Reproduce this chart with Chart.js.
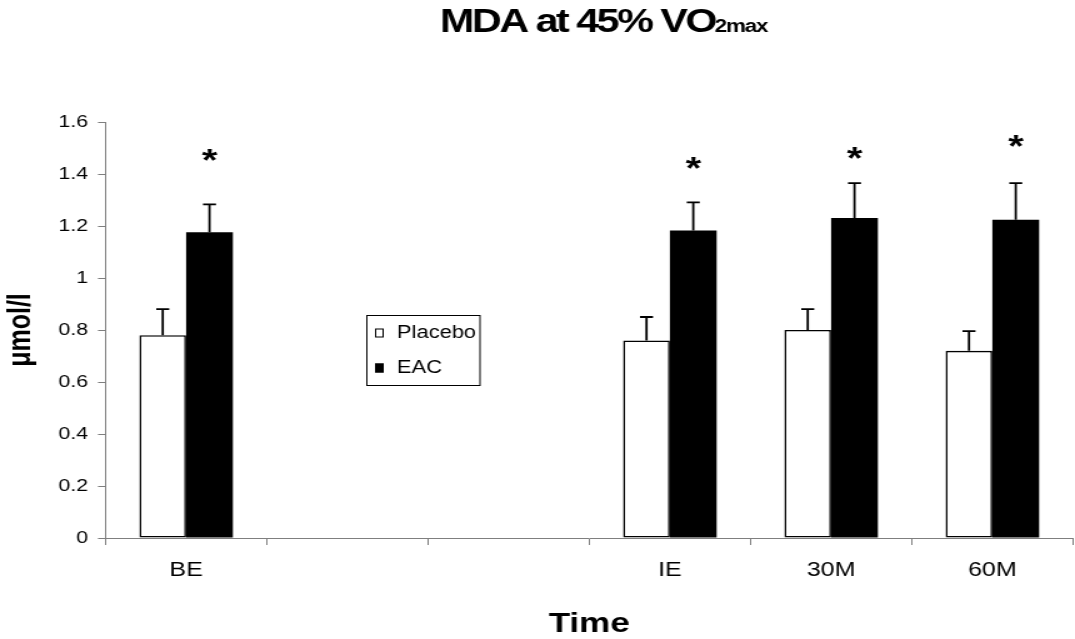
<!DOCTYPE html>
<html>
<head>
<meta charset="utf-8">
<title>MDA at 45% VO2max</title>
<script src="https://cdn.jsdelivr.net/npm/chart.js@4/dist/chart.umd.min.js"></script>
<style>
  html, body { margin: 0; padding: 0; background: #fff; overflow: hidden; }
  /* the chart is laid out narrow and widened, which gives the wide lettering */
  #wrap { width: 860px; height: 639px; transform: scaleX(1.25); transform-origin: 0 0; }
</style>
</head>
<body>
<div id="wrap"><canvas id="mdaChart" width="860" height="639"></canvas></div>
<script>
const timePoints = ['BE', '', '', 'IE', '30M', '60M'];
const placebo = [0.78, null, null, 0.76, 0.80, 0.72];
const placeboErr = [0.10, null, null, 0.09, 0.08, 0.076];
const eac = [1.176, null, null, 1.183, 1.231, 1.224];
const eacErr = [0.107, null, null, 0.108, 0.134, 0.141];
// height (in µmol/l) where each significance star sits
const starLevel = [1.473, null, null, 1.442, 1.482, 1.528];
const yTicks = [0, 0.2, 0.4, 0.6, 0.8, 1, 1.2, 1.4, 1.6];

const FONT = "'Liberation Sans', Arial, Helvetica, sans-serif";
const AXIS_GREY = '#7f7f7f';

const errorBars = {
    id: 'errorBars',
    afterDatasetsDraw(chart) {
        const ctx = chart.ctx;
        const y = chart.scales.y;
        const errs = [placeboErr, eacErr];
        ctx.save();
        ctx.strokeStyle = '#000';
        ctx.lineWidth = 1.8;
        chart.data.datasets.forEach((ds, d) => {
            const meta = chart.getDatasetMeta(d);
            ds.data.forEach((v, i) => {
                if (v == null) return;
                const x = meta.data[i].x;
                const y0 = y.getPixelForValue(v);
                const y1 = y.getPixelForValue(v + errs[d][i]);
                ctx.beginPath();
                ctx.moveTo(x, y0);
                ctx.lineTo(x, y1);
                ctx.moveTo(x - 5.2, y1);
                ctx.lineTo(x + 5.2, y1);
                ctx.stroke();
            });
        });
        ctx.restore();
    }
};

const stars = {
    id: 'stars',
    afterDatasetsDraw(chart) {
        const ctx = chart.ctx;
        const y = chart.scales.y;
        const meta = chart.getDatasetMeta(1);
        ctx.save();
        ctx.font = 'bold 32px ' + FONT;
        ctx.fillStyle = '#000';
        ctx.textAlign = 'center';
        const m = ctx.measureText('*');
        const shift = (m.actualBoundingBoxAscent - m.actualBoundingBoxDescent) / 2;
        starLevel.forEach((lv, i) => {
            if (lv == null) return;
            ctx.fillText('*', meta.data[i].x, y.getPixelForValue(lv) + shift);
        });
        ctx.restore();
    }
};

// boxed legend inside the plot and the title with its subscript
const decorations = {
    id: 'decorations',
    afterDraw(chart) {
        const ctx = chart.ctx;
        ctx.save();

        // title, set tight
        const main = 'MDA at 45% VO';
        const sub = '2max';
        ctx.fillStyle = '#000';
        ctx.textBaseline = 'alphabetic';
        ctx.letterSpacing = '-2px';
        ctx.font = 'bold 33px ' + FONT;
        const wMain = ctx.measureText(main).width;
        ctx.font = 'bold 18px ' + FONT;
        ctx.letterSpacing = '-1px';
        const wSub = ctx.measureText(sub).width;
        const tx = 483 - (wMain + wSub) / 2;
        ctx.fillText(sub, tx + wMain, 32);
        ctx.letterSpacing = '-2px';
        ctx.font = 'bold 33px ' + FONT;
        ctx.fillText(main, tx, 32);
        ctx.letterSpacing = '0px';

        // legend
        ctx.strokeStyle = '#000';
        ctx.lineWidth = 1;
        ctx.strokeRect(293.5, 315.5, 90.5, 70);
        ctx.font = '17.5px ' + FONT;
        ctx.textBaseline = 'middle';
        const rows = [333, 368];
        chart.data.datasets.forEach((ds, d) => {
            const cy = rows[d];
            ctx.fillStyle = ds.backgroundColor;
            ctx.fillRect(300, cy - 4.5, 7, 9);
            ctx.strokeStyle = '#000';
            ctx.strokeRect(300.5, cy - 4, 6, 8);
            ctx.fillStyle = '#000';
            ctx.fillText(ds.label, 317.6, cy);
        });
        ctx.restore();
    }
};

const ctx = document.getElementById('mdaChart').getContext('2d');

const mdaChart = new Chart(ctx, {
    type: 'bar',
    data: {
        labels: timePoints,
        datasets: [{
            label: 'Placebo',
            data: placebo,
            backgroundColor: '#ffffff',
            borderColor: '#000000',
            borderWidth: 1.6,
            borderSkipped: false
        }, {
            label: 'EAC',
            data: eac,
            backgroundColor: '#000000',
            borderColor: '#000000',
            borderWidth: 0
        }]
    },
    options: {
        responsive: false,
        animation: false,
        devicePixelRatio: 1,
        categoryPercentage: 0.58,
        barPercentage: 1.0,
        layout: { padding: { top: 122, right: 1.6, left: 0, bottom: 0 } },
        plugins: {
            legend: { display: false },
            title: { display: false },
            tooltip: { enabled: false }
        },
        scales: {
            x: {
                offset: true,
                grid: {
                    offset: true,
                    drawOnChartArea: false,
                    drawTicks: true,
                    tickLength: 7,
                    color: AXIS_GREY
                },
                border: { color: AXIS_GREY, width: 1 },
                ticks: {
                    color: '#000',
                    font: { family: FONT, size: 20 },
                    padding: 13,
                    maxRotation: 0,
                    autoSkip: false
                },
                title: {
                    display: true,
                    text: 'Time',
                    color: '#000',
                    font: { family: FONT, size: 28, weight: 'bold', lineHeight: 1 },
                    padding: { top: 0, bottom: 1 }
                },
                afterFit(scale) { scale.height = 101; }
            },
            y: {
                min: 0,
                max: 1.6,
                afterBuildTicks(scale) {
                    scale.ticks = yTicks.map(v => ({ value: v }));
                },
                grid: {
                    drawOnChartArea: false,
                    drawTicks: true,
                    tickLength: 6,
                    color: AXIS_GREY
                },
                border: { color: AXIS_GREY, width: 1 },
                ticks: {
                    color: '#000',
                    font: { family: FONT, size: 17 },
                    padding: 8,
                    callback: v => String(+Number(v).toFixed(1))
                },
                title: {
                    display: true,
                    text: 'μmol/l',
                    color: '#000',
                    font: { family: FONT, size: 25, weight: 'bold', lineHeight: 1 },
                    padding: { top: 5, bottom: 0 }
                },
                afterFit(scale) { scale.width = 84.4; }
            }
        }
    },
    plugins: [errorBars, stars, decorations]
});
</script>
</body>
</html>
